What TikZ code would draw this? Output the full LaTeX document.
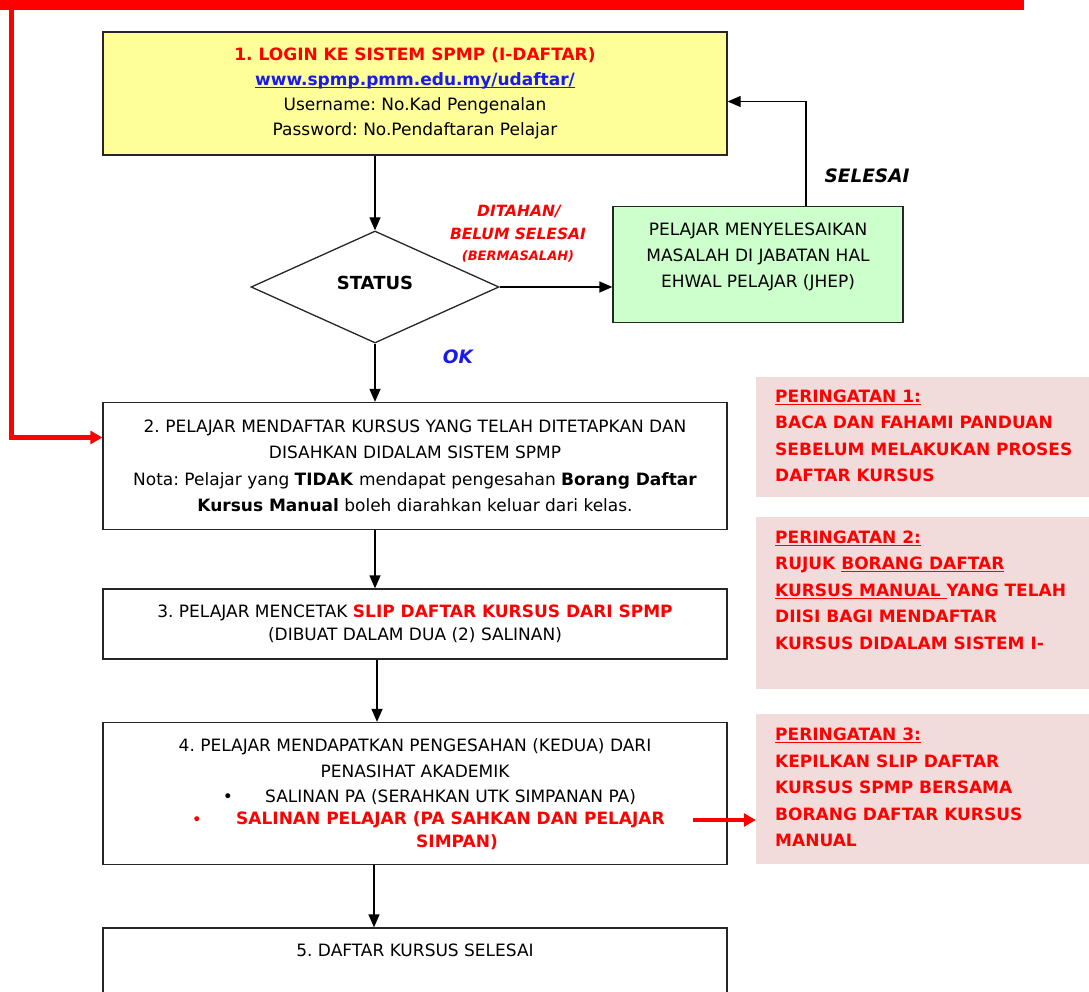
\documentclass[tikz,border=0pt]{standalone}
\usepackage{fontspec}
\setmainfont{DejaVu Sans}
\usetikzlibrary{shapes.geometric,arrows.meta}
\definecolor{ylw}{HTML}{FFFF99}
\definecolor{grn}{HTML}{CCFFCC}
\definecolor{pnk}{HTML}{F2DCDB}
\definecolor{rd}{HTML}{FF0000}
\definecolor{bl}{HTML}{1A1AF0}
\newcommand\myul[1]{\setbox0\hbox{#1}\rlap{\rule[-2.6pt]{\wd0}{1.2pt}}\box0}
\frenchspacing
\begin{document}
\begin{tikzpicture}[x=1pt,y=-1pt,
  box/.style={draw=black!85,line width=1.3pt,minimum width=624pt,inner sep=0pt,align=center,
    font=\fontsize{17}{26}\selectfont},
  txt/.style={inner sep=0pt,align=center,font=\fontsize{17}{26}\selectfont},
  pbox/.style={fill=pnk,inner sep=0pt,minimum width=360pt},
  ptxt/.style={inner sep=0pt,align=left,anchor=west,text=rd,font=\fontsize{17}{26.5}\selectfont\bfseries},
  lbl/.style={inner sep=0pt,font=\bfseries\itshape},
  arr/.style={line width=1.3pt,-{Triangle[length=13pt,width=11pt]}},
  redarr/.style={draw=rd,line width=4.5pt,-{Triangle[length=12pt,width=13pt]}}]
\useasboundingbox (0,0) rectangle (1089,992);
\clip (0,0) rectangle (1089,992);
\fill[white] (0,0) rectangle (1089,992);

% top red bar
\fill[rd] (0,0) rectangle (1024,10);

% boxes
\node[box,fill=ylw,minimum height=123pt] (b1) at (415,93.5)
  {{\color{rd}\textbf{1. LOGIN KE SISTEM SPMP (I-DAFTAR)}}\\[-1pt]
   {\color{bl}\textbf{\myul{www.spmp.pmm.edu.my/udaftar/}}}\\[-1pt]
   Username: No.Kad Pengenalan\\[-1pt]
   Password: No.Pendaftaran Pelajar};

\node[diamond,draw=black!85,line width=1.3pt,minimum width=248pt,minimum height=112pt,inner sep=0pt,
  font=\fontsize{18}{22}\selectfont\bfseries] (st) at (375,287)
  {\raisebox{4pt}[\height][\depth]{STATUS}};

\node[box,fill=grn,minimum width=290pt,minimum height=116pt] (jhep) at (758,264.5)
  {\raisebox{8.5pt}[\height][\depth]{\begin{tabular}{@{}c@{}}PELAJAR MENYELESAIKAN\\MASALAH DI JABATAN HAL\\EHWAL PELAJAR (JHEP)\end{tabular}}};

\node[box,minimum height=127pt] (b2) at (415,466)
  {2. PELAJAR MENDAFTAR KURSUS YANG TELAH DITETAPKAN DAN\\
   DISAHKAN DIDALAM SISTEM SPMP\\[1pt]
   Nota: Pelajar yang \textbf{TIDAK} mendapat pengesahan \textbf{Borang Daftar}\\
   \textbf{Kursus Manual} boleh diarahkan keluar dari kelas.};

\node[box,minimum height=70pt,font=\fontsize{17}{23}\selectfont] (b3) at (415,624)
  {3. PELAJAR MENCETAK {\color{rd}\textbf{SLIP DAFTAR KURSUS DARI SPMP}}\\
   (DIBUAT DALAM DUA (2) SALINAN)};

\node[box,minimum height=142pt] (b4) at (415,793.5) {};
\node[txt] (b4h) at (415,758) {4. PELAJAR MENDAPATKAN PENGESAHAN (KEDUA) DARI\\PENASIHAT AKADEMIK};
\node[txt] (bu1) at (228,798) {•};
\node[txt,anchor=west] (t1) at (265,797) {SALINAN PA (SERAHKAN UTK SIMPANAN PA)};
\node[txt,text=rd] (bu2) at (197,821) {•};
\node[txt,anchor=west,text=rd,font=\fontsize{17}{26}\selectfont\bfseries] (t2) at (236,820) {SALINAN PELAJAR (PA SAHKAN DAN PELAJAR};
\node[txt,text=rd,font=\fontsize{17}{26}\selectfont\bfseries] (t3) at (457,842) {SIMPAN)};

\node[box,minimum height=100pt] (b5) at (415,978) {};
\node[txt] (b5t) at (415,950) {5. DAFTAR KURSUS SELESAI};

% pink warning boxes
\node[pbox,minimum height=120pt] (p1) at (936,436.5) {};
\node[ptxt] (p1t) at (775,436) {\myul{PERINGATAN 1:}\\BACA DAN FAHAMI PANDUAN\\SEBELUM MELAKUKAN PROSES\\DAFTAR KURSUS};
\node[pbox,minimum height=172pt] (p2) at (936,603) {};
\node[ptxt] (p2t) at (775,590) {\myul{PERINGATAN 2:}\\RUJUK \myul{BORANG DAFTAR}\\\myul{KURSUS MANUAL\ }YANG TELAH\\DIISI BAGI MENDAFTAR\\KURSUS DIDALAM SISTEM I-};
\node[pbox,minimum height=150pt] (p3) at (936,789) {};
\node[ptxt] (p3t) at (775,787.5) {\myul{PERINGATAN 3:}\\KEPILKAN SLIP DAFTAR\\KURSUS SPMP BERSAMA\\BORANG DAFTAR KURSUS\\MANUAL};

% labels
\node[lbl,text=rd,font=\fontsize{15.5}{18}\selectfont\bfseries\itshape] (l1) at (519,212) {DITAHAN/};
\node[lbl,text=rd,font=\fontsize{15.5}{18}\selectfont\bfseries\itshape] (l2) at (518,234) {BELUM SELESAI};
\node[lbl,text=rd,font=\fontsize{13}{16}\selectfont\bfseries\itshape] (l3) at (518,256) {(BERMASALAH)};
\node[lbl,font=\fontsize{18.5}{22}\selectfont\bfseries\itshape] (ls) at (867,176) {SELESAI};
\node[lbl,text=bl,font=\fontsize{18.5}{22}\selectfont\bfseries\itshape] (lok) at (458,357) {OK};

% connectors
\draw[arr] ([xshift=-40pt]b1.south) -- (st.north);
\draw[arr] (st.east) -- (st.east -| jhep.west);
\draw[arr] ([xshift=48pt]jhep.north) |- ([yshift=-8pt]b1.east);
\draw[arr] (st.south) -- ([xshift=-40pt]b2.north);
\draw[arr] ([xshift=-40pt]b2.south) -- ([xshift=-40pt]b3.north);
\draw[arr] ([xshift=-38pt]b3.south) -- ([xshift=-38pt]b4.north);
\draw[arr] ([xshift=-41pt]b4.south) -- ([xshift=-41pt]b5.north);

% red connectors
\coordinate (rtop) at (11.5,8);
\draw[redarr] (rtop) |- ([yshift=28.5pt]b2.west);
\coordinate (ra) at (693,820);
\draw[redarr,line width=3.5pt] (ra) -- (ra -| p3.west);
\end{tikzpicture}
\end{document}
